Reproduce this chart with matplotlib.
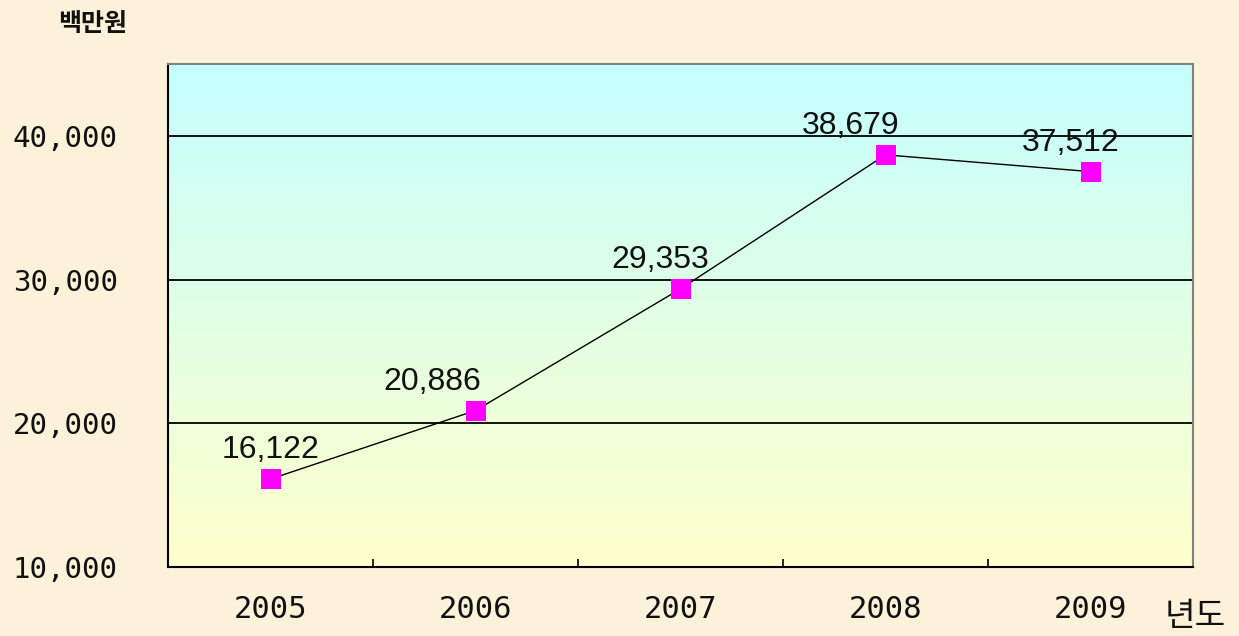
import numpy as np
import matplotlib
matplotlib.use("Agg")
import matplotlib.pyplot as plt
from matplotlib.colors import LinearSegmentedColormap

# ---- data ----
years = ["2005", "2006", "2007", "2008", "2009"]
values = [16122, 20886, 29353, 38679, 37512]
value_labels = ["16,122", "20,886", "29,353", "38,679", "37,512"]
y_ticks = [10000, 20000, 30000, 40000]
y_tick_labels = ["10,000", "20,000", "30,000", "40,000"]
unit_label = "백만원"
x_unit_label = "년도"

# label horizontal offsets (pixels) - styling
label_dx = [0, -43, -20, -35, -20]

W, H, DPI = 1239, 636, 100
fig = plt.figure(figsize=(W / DPI, H / DPI), dpi=DPI)
bg = "#FCF2DA"
fig.patch.set_facecolor(bg)

ax = fig.add_axes([168 / W, 1 - 567 / H, (1193 - 168) / W, (567 - 64) / H])
x = np.arange(len(years))
ax.set_xlim(-0.5, len(years) - 0.5)
ax.set_ylim(10000, 45000)

# gradient background
cmap = LinearSegmentedColormap.from_list("grad", ["#FFFFCC", "#E2FFE4", "#C4FFFF"])
grad = np.linspace(0, 1, 256).reshape(-1, 1)
ax.imshow(grad, aspect="auto", cmap=cmap, origin="lower",
          extent=[-0.5, len(years) - 0.5, 10000, 45000], zorder=0)

# gridlines
for yv in y_ticks[1:]:
    ax.axhline(yv, color="black", lw=1.3, zorder=1)

ax.plot(x, values, color="black", lw=1.0, zorder=2)
ax.plot(x, values, ls="none", marker="s", markersize=14,
        markerfacecolor="#FF00FF", markeredgewidth=0, zorder=3)

for xi, v, lab, dx in zip(x, values, value_labels, label_dx):
    ax.annotate(lab, (xi, v), xytext=(dx, 21), textcoords="offset pixels",
                ha="center", va="baseline", fontsize=23,
                family="Liberation Sans", color="#111111", zorder=4)

ax.set_yticks(y_ticks)
ax.set_yticklabels(y_tick_labels, family="DejaVu Sans Mono", fontsize=21, color="#111111")
ax.tick_params(axis="y", length=0, pad=36)

ax.set_xticks(x)
ax.set_xticklabels(years, family="DejaVu Sans Mono", fontsize=22, color="#111111")
ax.tick_params(axis="x", which="major", length=0, pad=20)
ax.set_xticks(np.arange(-0.5, len(years) + 0.5, 1.0), minor=True)
ax.tick_params(axis="x", which="minor", direction="in", length=6, width=1.2, color="black")

for s in ["left", "bottom"]:
    ax.spines[s].set_color("black")
    ax.spines[s].set_linewidth(1.5)
for s in ["top", "right"]:
    ax.spines[s].set_color("#808080")
    ax.spines[s].set_linewidth(1.5)

fig.text(93 / W, 1 - 24 / H, unit_label, family=["Noto Sans CJK KR", "DejaVu Sans"],
         fontsize=18, fontweight="bold", ha="center", va="center", color="#111111")
fig.text(1195 / W, 1 - 617 / H, x_unit_label, family=["Noto Sans CJK KR", "DejaVu Sans"],
         fontsize=24, ha="center", va="center", color="#111111")

fig.savefig("out.png", dpi=DPI, facecolor=bg)
